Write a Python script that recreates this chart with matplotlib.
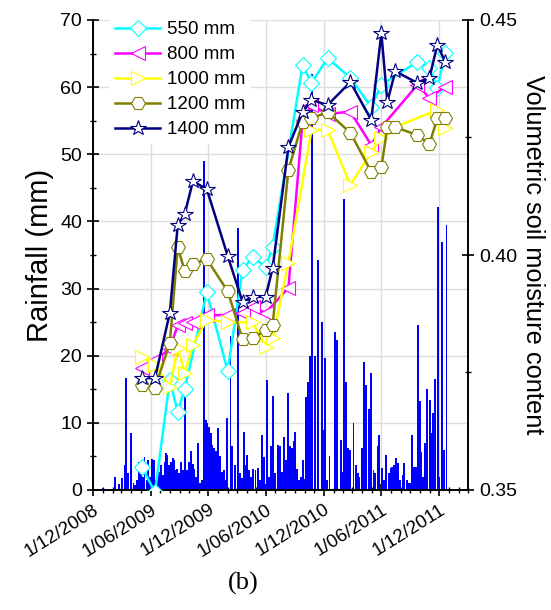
import numpy as np
import pandas as pd
import matplotlib
matplotlib.use('Agg')
import matplotlib.pyplot as plt
import matplotlib.dates as mdates
from matplotlib.ticker import MultipleLocator, FuncFormatter
from matplotlib.lines import Line2D

plt.rcParams['font.family'] = ['Liberation Sans', 'DejaVu Sans']

# daily rainfall, day number counted from 1 Dec 2008
start = pd.Timestamp('2008-12-01')
rain_day = [31, 69, 82, 91, 100, 103, 112, 121, 128, 133, 139, 145, 151, 157, 163,
            170, 175, 180, 187, 192, 199, 205, 210, 215, 220, 226, 231, 235, 241, 246,
            252, 257, 262, 267, 273, 279, 285, 290, 297, 304, 309, 315, 320, 325, 331,
            338, 344, 352, 357, 362, 367, 372, 378, 383, 388, 394, 401, 407, 414, 419,
            425, 435, 441, 449, 459, 464, 470, 477, 482, 488, 493, 501, 507, 514, 521,
            528, 535, 541, 549, 556, 563, 570, 576, 585, 592, 598, 605, 611, 617, 623,
            629, 635, 640, 646, 651, 659, 663, 667, 673, 680, 686, 694, 702, 711, 724,
            730, 735, 740, 748, 765, 772, 783, 788, 793, 801, 806, 814, 824, 831, 837,
            843, 851, 858, 864, 872, 879, 887, 893, 900, 905, 914, 919, 927, 935, 942,
            947, 953, 959, 964, 971, 979, 985, 992, 998, 1003, 1008, 1016, 1022, 1027, 1034,
            1039, 1045, 1050, 1056, 1066, 1071, 1076, 1082, 1092, 1096, 1104, 1110, 1118]
rain_mm = [0.3, 1.9, 0.9, 1.8, 3.7, 16.7, 2.5, 8.5, 1.0, 0.7, 1.5, 4.2, 3.4, 1.9, 4.9,
           1.5, 4.5, 1.9, 4.6, 4.5, 1.5, 2.0, 2.7, 3.7, 2.2, 4.2, 5.5, 5.2, 3.7, 4.2,
           4.7, 4.5, 3.0, 3.2, 2.5, 4.2, 3.0, 13.9, 3.0, 4.2, 5.8, 3.9, 3.2, 2.0, 7.0,
           1.0, 1.5, 49.0, 10.4, 10.0, 9.4, 8.5, 6.7, 6.2, 5.8, 9.3, 5.0, 2.7, 3.0, 1.5,
           10.7, 23.0, 6.5, 3.7, 39.0, 2.5, 1.8, 8.7, 3.7, 5.2, 3.0, 1.9, 3.2, 3.0, 3.3,
           1.5, 8.2, 4.9, 16.4, 1.9, 6.5, 14.0, 2.5, 6.7, 6.5, 2.7, 7.9, 4.5, 14.4, 6.5,
           6.3, 7.3, 8.7, 3.2, 1.5, 1.9, 4.5, 1.7, 13.9, 16.1, 20.0, 62.0, 20.0, 34.3, 25.0,
           9.0, 19.6, 1.5, 5.0, 23.6, 22.3, 7.4, 2.7, 43.4, 16.1, 6.2, 6.0, 10.0, 3.7, 2.5,
           1.9, 6.2, 19.1, 15.6, 12.0, 17.4, 3.0, 2.5, 6.5, 8.2, 3.3, 1.5, 5.2, 2.5, 3.3,
           3.5, 3.7, 4.7, 4.0, 1.5, 2.2, 4.0, 1.5, 1.0, 1.0, 8.2, 3.5, 3.5, 24.6, 13.2,
           5.7, 2.0, 7.0, 15.1, 13.4, 8.5, 11.4, 16.5, 42.2, 2.0, 37.0, 6.0, 39.5]

# soil moisture sampling dates and readings (nan = not sampled)
obs_dates = ['2009-05-05', '2009-06-15', '2009-08-01', '2009-08-26', '2009-09-17',
             '2009-10-13', '2009-11-26', '2010-01-31', '2010-03-19', '2010-04-20',
             '2010-05-31', '2010-06-22', '2010-08-11', '2010-09-25', '2010-10-23',
             '2010-12-13', '2011-02-23', '2011-04-30', '2011-06-01', '2011-06-20',
             '2011-07-15', '2011-09-23', '2011-10-31', '2011-11-25', '2011-12-20']
nan = np.nan
sm_550 = [0.3549, 0.3495, 0.3734, 0.3666, 0.3715, nan, 0.3921, 0.3753, 0.3968, 0.3996,
          0.3974, 0.4017, nan, 0.4404, 0.4366, 0.4419, 0.4377, 0.4315, 0.4362, nan,
          nan, 0.4411, 0.4398, 0.4355, 0.4430]
sm_800 = [0.3760, 0.3777, 0.3800, 0.3851, 0.3855, 0.3857, 0.3872, 0.3872, 0.3877, 0.3889,
          0.3877, nan, 0.3930, 0.4287, 0.4319, 0.4300, 0.4305, 0.4234, 0.4272, nan,
          nan, 0.4362, 0.4334, nan, 0.4358]
sm_1000 = [0.3783, 0.3766, 0.3719, 0.3802, 0.3749, 0.3809, 0.3862, 0.3857, nan, 0.3857,
           0.3804, 0.3823, 0.3983, nan, 0.4266, 0.4266, 0.4149, 0.4219, 0.4249, nan,
           0.4272, nan, nan, 0.4309, 0.4270]
sm_1200 = [0.3723, 0.3717, 0.3813, 0.4017, 0.3966, 0.3981, 0.3991, 0.3923, 0.3821, 0.3823,
           0.3840, 0.3851, 0.4181, 0.4283, 0.4291, 0.4304, 0.4260, 0.4177, 0.4187, 0.4272,
           0.4272, 0.4255, 0.4236, 0.4291, 0.4291]
sm_1400 = [0.3738, 0.3738, 0.3877, 0.4064, 0.4087, 0.4157, 0.4140, 0.3998, 0.3900, 0.3911,
           0.3911, 0.3972, 0.4230, 0.4304, 0.4330, 0.4319, 0.4368, 0.4287, 0.4472, 0.4326,
           0.4391, 0.4366, 0.4377, 0.4447, 0.4411]

series_labels = ['550 mm', '800 mm', '1000 mm', '1200 mm', '1400 mm']
series_values = [sm_550, sm_800, sm_1000, sm_1200, sm_1400]
colors = ['#00ffff', '#ff00ff', '#ffff00', '#808000', '#000080']
markers = ['D', '<', '>', 'H', '*']
msizes = [8.5, 10, 10, 10, 11.5]

fig = plt.figure(figsize=(5.51, 6.10), dpi=100)
ax = fig.add_axes([93 / 551, 1 - 490 / 610, 375 / 551, 470 / 610])
ax2 = ax.twinx()

rain_dates = (start + pd.to_timedelta(rain_day, unit='D')).values
ax.bar(rain_dates, rain_mm, width=np.timedelta64(6, 'D'), color='#0000ff',
       linewidth=0, zorder=2)
ax.set_ylim(0, 70)
ax.set_xlim(pd.Timestamp('2008-12-01'), pd.Timestamp('2012-03-01'))
ax.grid(True, color='#dddddd', linewidth=1.0)
ax.set_axisbelow(True)

t = pd.to_datetime(obs_dates).values
handles = []
for lab, vals, c, m, s in zip(series_labels, series_values, colors, markers, msizes):
    v = np.array(vals, dtype=float)
    ok = np.isfinite(v)
    ax2.plot(t[ok], v[ok], color=c, linewidth=1.8, marker=m, markersize=s,
             markerfacecolor='white', markeredgecolor=c, markeredgewidth=0.8, zorder=3)
    handles.append(Line2D([], [], color=c, linewidth=1.8, marker=m, markersize=s,
                          markerfacecolor='white', markeredgecolor=c, markeredgewidth=0.8))
ax2.set_ylim(0.35, 0.45)

# ticks
ax.xaxis.set_major_locator(mdates.MonthLocator(bymonth=(6, 12)))
ax.xaxis.set_minor_locator(mdates.MonthLocator())
ax.xaxis.set_major_formatter(FuncFormatter(
    lambda x, pos: '{}/{:02d}/{}'.format(mdates.num2date(x).day, mdates.num2date(x).month,
                                         mdates.num2date(x).year)))
ax.yaxis.set_major_locator(MultipleLocator(10))
ax.yaxis.set_minor_locator(MultipleLocator(5))
ax2.yaxis.set_major_locator(MultipleLocator(0.05))
ax2.yaxis.set_minor_locator(MultipleLocator(0.025))
ax2.yaxis.set_major_formatter(FuncFormatter(lambda y, pos: '%.2f' % y))

for a in (ax, ax2):
    a.tick_params(which='major', direction='inout', length=9, width=1.2, labelsize=14)
    a.tick_params(which='minor', direction='inout', length=5, width=1.0)
    a.spines['top'].set_visible(False)
    for sp in ('left', 'right', 'bottom'):
        a.spines[sp].set_linewidth(1.2)
ax.tick_params(axis='x', labelsize=13.5)
plt.setp(ax.get_xticklabels(), rotation=32, ha='right', rotation_mode='anchor')

ax.set_ylabel('Rainfall (mm)', fontsize=21, va='center')
ax.yaxis.set_label_coords(-0.141, 0.5)
ax2.set_ylabel('Volumetric soil moisture content', fontsize=18.3, rotation=270, va='center')
ax2.yaxis.set_label_coords(1.173, 0.5)

ax2.legend(handles, series_labels, loc='upper left', bbox_to_anchor=(100 / 551, 1 - 6 / 610),
           bbox_transform=fig.transFigure, frameon=True, edgecolor='none', facecolor='white',
           framealpha=1, fontsize=13.5, handlelength=2.4, handletextpad=0.35,
           labelspacing=0.42, borderpad=0.3)

fig.text(243 / 551, 1 - 583 / 610, '(b)', ha='center', va='center', fontsize=19,
         family='Liberation Serif')

fig.savefig('out.png', dpi=100)
